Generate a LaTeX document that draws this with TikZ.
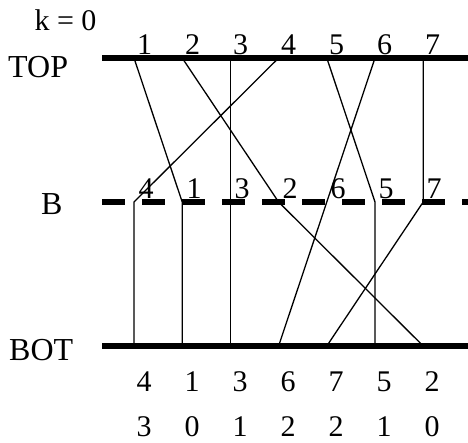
\documentclass[tikz,border=0pt]{standalone}
\usepackage{fontspec}
\setmainfont{Liberation Serif}
\begin{document}
\begin{tikzpicture}[x=1pt,y=-1pt,
  lbl/.style={inner sep=0pt,anchor=base,font=\fontsize{30}{33}\selectfont},
  rowname/.style={inner sep=0pt,anchor=base west,font=\fontsize{32}{35}\selectfont},
  bar/.style={line width=5.5pt},
  dashbar/.style={line width=6pt,dash pattern=on 23pt off 17pt},
  wire/.style={line width=1.3pt}]
\useasboundingbox (0,0) rectangle (468,443);
% rails
\coordinate (tl) at (102,58);  \coordinate (tr) at (468,58);
\coordinate (bl) at (102,202); \coordinate (br) at (468,202);
\coordinate (ol) at (102,346); \coordinate (or) at (468,346);
\draw[bar] (tl) -- (tr);
\draw[dashbar] (bl) -- (br);
\draw[bar] (ol) -- (or);
% points
\foreach \i in {1,...,7}{
  \coordinate (t\i) at ({134+48.2*(\i-1)},58);
  \coordinate (b\i) at ({134+48.2*(\i-1)},202);
  \coordinate (o\i) at ({134+48.2*(\i-1)},346);
}
% wires
\draw[wire] (t1) -- (b2) -- (o2);
\draw[wire] (t2) -- (b4) -- (o7);
\draw[wire] (t3) -- (b3) -- (o3);
\draw[wire] (t4) -- (b1) -- (o1);
\draw[wire] (t5) -- (b6) -- (o6);
\draw[wire] (t6) -- (b5) -- (o4);
\draw[wire] (t7) -- (b7) -- (o5);
% labels
\node[lbl] (k) at (65.5,31) {k = 0};
\node[rowname] (ntop) at (8,78) {TOP};
\node[rowname] (nb) at (41,215) {B};
\node[rowname] (nbot) at (9,360) {BOT};
\foreach \v [count=\i] in {1,2,3,4,5,6,7}
  \node[lbl] (lt\i) at ({144.5+48*(\i-1)},55) {\v};
\foreach \v [count=\i] in {4,1,3,2,6,5,7}
  \node[lbl] (lb\i) at ({146+48*(\i-1)},199) {\v};
\foreach \v [count=\i] in {4,1,3,6,7,5,2}
  \node[lbl] (lo\i) at ({144+48*(\i-1)},391) {\v};
\foreach \v [count=\i] in {3,0,1,2,2,1,0}
  \node[lbl] (lc\i) at ({144+48*(\i-1)},436) {\v};
\end{tikzpicture}
\end{document}
